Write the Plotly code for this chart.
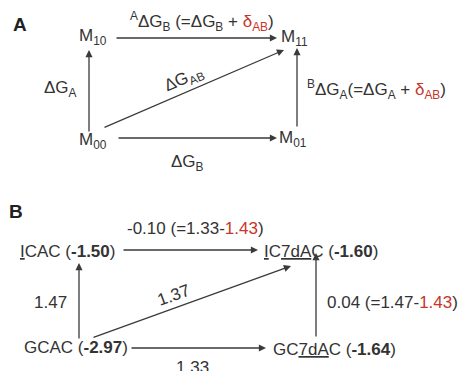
import plotly.graph_objects as go

# ---------------- data ----------------
RED = "#c8352b"
panel_titles = ["A", "B"]

# Panel A: states and free-energy terms
a_nodes = ["M<sub>10</sub>", "M<sub>11</sub>", "M<sub>00</sub>", "M<sub>01</sub>"]
a_edge_labels = [
    "ΔG<sub>A</sub>",
    "<sup>A</sup>ΔG<sub>B</sub> (=ΔG<sub>B</sub> + <span style='color:%s'>δ<sub>AB</sub></span>)" % RED,
    "ΔG<sub>AB</sub>",
    "ΔG<sub>B</sub>",
    "<sup>B</sup>ΔG<sub>A</sub>(=ΔG<sub>A</sub> + <span style='color:%s'>δ<sub>AB</sub></span>)" % RED,
]

# Panel B: constructs, their energies and edge values
b_names = ["<u>I</u>CAC", "<u>I</u>C<u>7dA</u>C", "GCAC", "GC<u>7dA</u>C"]
b_energies = ["-1.50", "-1.60", "-2.97", "-1.64"]
b_left = "1.47"
b_top = ("-0.10", "1.33", "1.43")
b_diag = "1.37"
b_bottom = "1.33"
b_right = ("0.04", "1.47", "1.43")

# ---------------- layout (positions in pixel space) ----------------
W, H = 459, 371
TXT = "#333333"
LINE = "#3a3a3a"
FS_A = 17
FS_B = 17

fig = go.Figure()
ann = []

def text(x, y, s, size=FS_A, xanchor="center", angle=0, color=TXT):
    ann.append(dict(x=x, y=y, xref="x", yref="y", text=s, showarrow=False,
                    xanchor=xanchor, yanchor="middle", textangle=angle,
                    font=dict(size=size, color=color)))

def arrow(x0, y0, x1, y1):
    ann.append(dict(x=x1, y=y1, ax=x0, ay=y0, xref="x", yref="y", axref="x", ayref="y",
                    text="", showarrow=True, arrowhead=2, arrowsize=1.1,
                    arrowwidth=1.3, arrowcolor=LINE, standoff=0, startstandoff=0))

# panel letters
text(20, 24, "<b>%s</b>" % panel_titles[0], size=19, color="#222")
text(16, 211, "<b>%s</b>" % panel_titles[1], size=19, color="#222")

# ---- Panel A ----
a_pos = [(93, 37), (294, 38), (93, 141), (293, 139)]
for (x, y), s in zip(a_pos, a_nodes):
    text(x, y, s)
arrow(89, 133, 89, 50)      # M00 -> M10
arrow(115, 38, 277, 38)     # M10 -> M11
arrow(103, 128, 284, 50)    # M00 -> M11
arrow(117, 138, 277, 138)   # M00 -> M01
arrow(297, 128, 297, 48)    # M01 -> M11
text(60, 89, a_edge_labels[0])
text(202, 21, a_edge_labels[1])
text(184, 80, a_edge_labels[2], angle=-23)
text(187, 163, a_edge_labels[3])
text(305, 89, a_edge_labels[4], xanchor="left")

# ---- Panel B ----
b_pos = [(18, 251, "left"), (262, 251, "left"), (22, 347, "left"), (271, 349, "left")]
for (x, y, xa), n, e in zip(b_pos, b_names, b_energies):
    text(x, y, "%s (<b>%s</b>)" % (n, e), xanchor=xa, size=FS_B)
arrow(79, 340, 79, 263)     # GCAC -> ICAC
arrow(122, 250, 258, 250)   # ICAC -> IC7dAC
arrow(92, 338, 291, 266)    # GCAC -> IC7dAC
arrow(130, 348, 266, 348)   # GCAC -> GC7dAC
arrow(316, 338, 316, 253)   # GC7dAC -> IC7dAC
text(50, 302, b_left, size=FS_B)
text(195, 228, "%s (=%s-<span style='color:%s'>%s</span>)" % (b_top[0], b_top[1], RED, b_top[2]),
     size=FS_B)
text(173, 295, b_diag, angle=-20, size=FS_B)
text(192, 367, b_bottom, size=FS_B)
text(325, 302, "%s (=%s-<span style='color:%s'>%s</span>)" % (b_right[0], b_right[1], RED, b_right[2]),
     xanchor="left", size=FS_B)

fig.update_layout(
    width=W, height=H,
    margin=dict(l=0, r=0, t=0, b=0),
    paper_bgcolor="white", plot_bgcolor="white",
    font=dict(family="Liberation Sans, Arial, sans-serif", size=FS_A, color=TXT),
    xaxis=dict(range=[0, W], visible=False, fixedrange=True),
    yaxis=dict(range=[H, 0], visible=False, fixedrange=True),
    annotations=ann,
    showlegend=False,
)
fig.write_html("out.html", config={"displayModeBar": False},
               post_script="document.body.style.margin='0';document.body.style.overflow='hidden';")
